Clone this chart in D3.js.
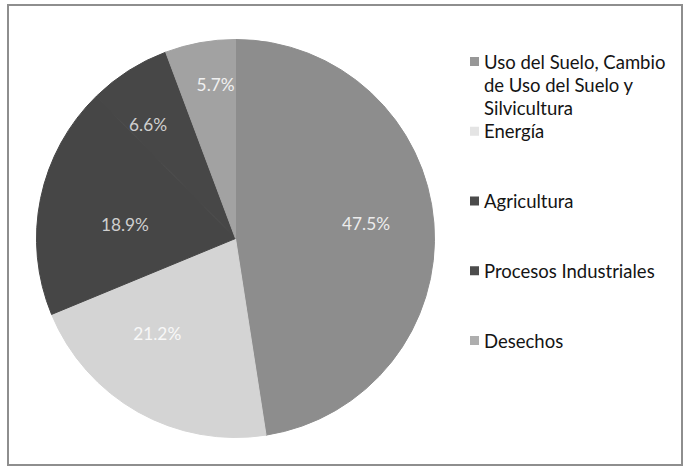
<!DOCTYPE html>
<html>
<head>
<meta charset="utf-8">
<script src="https://cdn.jsdelivr.net/npm/d3@7"></script>
<style>
  body { margin: 0; background: #fff; }
  svg { display: block; font-family: Lato, "Open Sans", sans-serif; }
</style>
</head>
<body>
<svg id="chart" width="688" height="470"></svg>
<script>
const categories = ['Uso del Suelo, Cambio de Uso del Suelo y Silvicultura', 'Energía', 'Agricultura', 'Procesos Industriales', 'Desechos']
const legendLines = [['Uso del Suelo, Cambio', 'de Uso del Suelo y', 'Silvicultura'], ['Energía'], ['Agricultura'], ['Procesos Industriales'], ['Desechos']]
const shares = [47.5, 21.2, 18.9, 6.6, 5.7]

// styling
const sliceColors = ['#8d8d8d', '#d4d4d4', '#464646', '#474747', '#a2a2a2']
const labelColors = ['#ececec', '#f8f8f8', '#cfcfcf', '#cfcfcf', '#f0f0f0']
// label placement (fraction of radius, degrees off the slice middle)
const labelRadius = [0.66, 0.62, 0.56, 0.72, 0.78]
const labelTurn = [-2, 10, -4.7, -5.2, 2.9]

const svg = d3.select('#chart')
const cx = 235.5, cy = 238.5, r = 199

// frame
svg.append('rect')
    .attr('x', 8).attr('y', 5)
    .attr('width', 674).attr('height', 460)
    .attr('fill', 'none')
    .attr('stroke', '#8e8e8e')
    .attr('stroke-width', 2)

const data = categories.map((c, i) => ({ name: c, value: shares[i], i }))

const pie = d3.pie().value(d => d.value).sort(null)
const arc = d3.arc().innerRadius(0).outerRadius(r)

const g = svg.append('g').attr('transform', `translate(${cx},${cy})`)
const arcs = pie(data)

g.selectAll('path')
    .data(arcs)
    .join('path')
    .attr('d', arc)
    .attr('fill', d => sliceColors[d.data.i])
    .attr('stroke', d => sliceColors[d.data.i])
    .attr('stroke-width', 1)
    .attr('stroke-linejoin', 'round')

const labelPos = d => {
    const a = (d.startAngle + d.endAngle) / 2 + labelTurn[d.data.i] * Math.PI / 180
    const k = r * labelRadius[d.data.i]
    return [Math.sin(a) * k, -Math.cos(a) * k]
}

g.selectAll('text')
    .data(arcs)
    .join('text')
    .text(d => d3.format('.1f')(d.data.value) + '%')
    .attr('x', d => labelPos(d)[0])
    .attr('y', d => labelPos(d)[1])
    .attr('dy', '0.36em')
    .style('text-anchor', 'middle')
    .style('font-size', '17.3px')
    .style('fill', d => labelColors[d.data.i])

// legend
const yLegend = d3.scalePoint().domain(categories).range([62, 341])

const legend = svg.append('g')
    .selectAll('g')
    .data(data)
    .join('g')
    .attr('transform', d => `translate(470,${yLegend(d.name)})`)

legend.append('rect')
    .attr('x', 0).attr('y', -5)
    .attr('width', 9).attr('height', 9)
    .attr('fill', d => d3.color(sliceColors[d.i]).brighter(0.2))

legend.append('text')
    .style('font-size', '18.5px')
    .style('fill', '#141414')
    .selectAll('tspan')
    .data(d => legendLines[d.i])
    .join('tspan')
    .attr('x', 14)
    .attr('y', (t, j) => j * 23)
    .attr('dy', '0.36em')
    .text(t => t)
</script>
</body>
</html>
